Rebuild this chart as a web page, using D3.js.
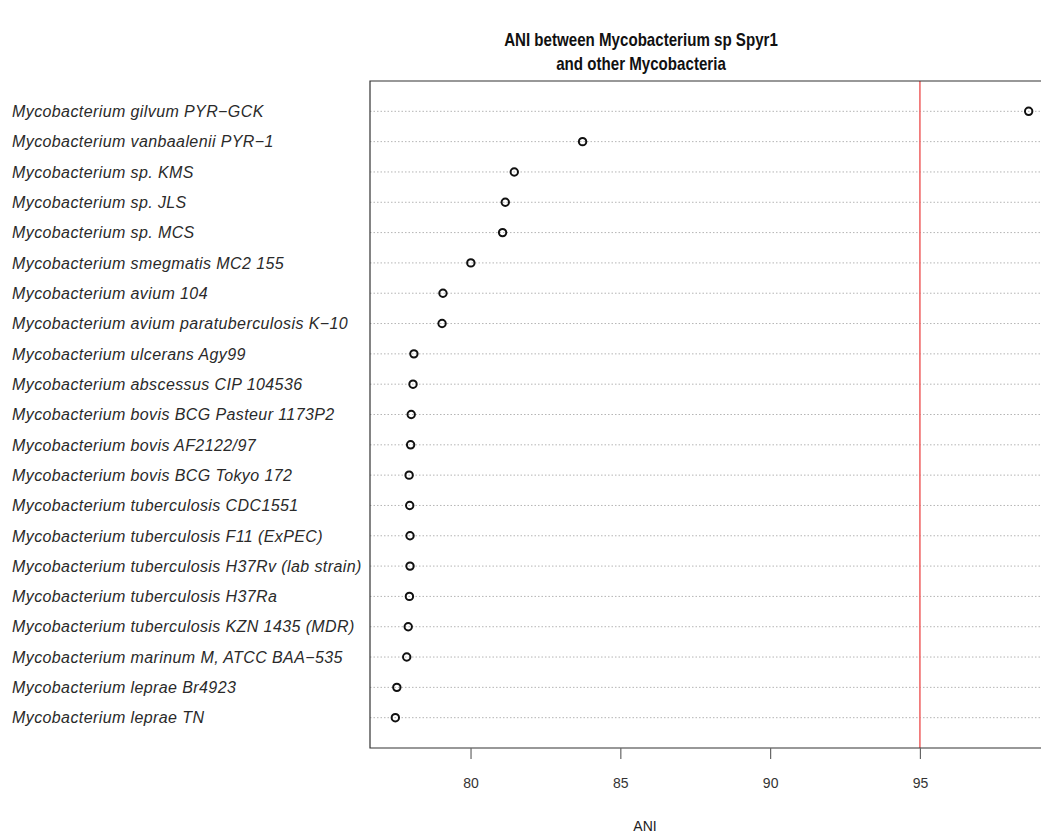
<!DOCTYPE html>
<html>
<head>
<meta charset="utf-8">
<script src="https://cdn.jsdelivr.net/npm/d3@7"></script>
<style>
  body { margin: 0; background: #fff; }
  text { font-family: "Liberation Sans", Arial, sans-serif; }
</style>
</head>
<body>
<svg id="chart"></svg>
<script>
// Species, top to bottom as drawn
var species = [
    "Mycobacterium gilvum PYR\u2212GCK",
    "Mycobacterium vanbaalenii PYR\u22121",
    "Mycobacterium sp. KMS",
    "Mycobacterium sp. JLS",
    "Mycobacterium sp. MCS",
    "Mycobacterium smegmatis MC2 155",
    "Mycobacterium avium 104",
    "Mycobacterium avium paratuberculosis K\u221210",
    "Mycobacterium ulcerans Agy99",
    "Mycobacterium abscessus CIP 104536",
    "Mycobacterium bovis BCG Pasteur 1173P2",
    "Mycobacterium bovis AF2122/97",
    "Mycobacterium bovis BCG Tokyo 172",
    "Mycobacterium tuberculosis CDC1551",
    "Mycobacterium tuberculosis F11 (ExPEC)",
    "Mycobacterium tuberculosis H37Rv (lab strain)",
    "Mycobacterium tuberculosis H37Ra",
    "Mycobacterium tuberculosis KZN 1435 (MDR)",
    "Mycobacterium marinum M, ATCC BAA\u2212535",
    "Mycobacterium leprae Br4923",
    "Mycobacterium leprae TN"
];

// ANI values (%) against Mycobacterium sp Spyr1
var ani = [98.63, 83.74, 81.46, 81.16, 81.07, 80.01, 79.08, 79.05, 78.11, 78.08,
           78.02, 78.00, 77.95, 77.97, 77.98, 77.98, 77.96, 77.92, 77.87, 77.54, 77.49];

var xTicks = [80, 85, 90, 95];
var cutoff = 95;

var titleLines = ["ANI between Mycobacterium sp Spyr1", "and other Mycobacteria"];
var xLabel = "ANI";

var W = 1041, H = 835;
var plot = { left: 370, top: 81, bottom: 748, right: 1054 };

var svg = d3.select("#chart")
    .attr("width", W)
    .attr("height", H);

// R-style xlim: data range padded by 4% on each side
var lo = d3.min(ani), hi = d3.max(ani), pad = (hi - lo) * 0.04;
var x = d3.scaleLinear()
    .domain([lo - pad, hi + pad])
    .range([plot.left, plot.right]);

// dotchart puts rows at 1..n inside 0..n+1
var n = species.length;
var y = d3.scaleLinear()
    .domain([0, n + 1])
    .range([plot.bottom, plot.top]);

function rowY(i) { return y(n - i); }

// dotted guide lines
svg.append("g")
    .selectAll("line")
    .data(species)
    .enter().append("line")
    .attr("x1", plot.left)
    .attr("x2", W)
    .attr("y1", function (d, i) { return rowY(i); })
    .attr("y2", function (d, i) { return rowY(i); })
    .style("stroke", "#b5b5b5")
    .style("stroke-width", 1)
    .style("stroke-dasharray", "1.5,2");

// red reference line at 95
svg.append("line")
    .attr("x1", x(cutoff)).attr("x2", x(cutoff))
    .attr("y1", plot.top).attr("y2", plot.bottom)
    .style("stroke", "#f06a6a")
    .style("stroke-width", 1.6);

// points
svg.append("g")
    .selectAll("circle")
    .data(ani)
    .enter().append("circle")
    .attr("cx", function (d) { return x(d); })
    .attr("cy", function (d, i) { return rowY(i); })
    .attr("r", 3.7)
    .style("fill", "none")
    .style("stroke", "#111")
    .style("stroke-width", 2);

// box (left, top, bottom)
svg.append("path")
    .attr("d", "M" + W + "," + plot.top + "H" + plot.left + "V" + plot.bottom + "H" + W)
    .style("fill", "none")
    .style("stroke", "#333")
    .style("stroke-width", 1.2);

// x axis
var xAxis = d3.axisBottom(x)
    .tickValues(xTicks)
    .tickSize(11)
    .tickPadding(19)
    .tickFormat(d3.format("d"));

var ax = svg.append("g")
    .attr("transform", "translate(0," + plot.bottom + ")")
    .call(xAxis);
ax.select(".domain").remove();
ax.selectAll(".tick line").style("stroke", "#666").style("stroke-width", 1.2);
ax.selectAll(".tick text")
    .style("font-size", "14px")
    .style("fill", "#333")
    .style("font-family", "'Liberation Sans', Arial, sans-serif");

// species labels
svg.append("g")
    .selectAll("text")
    .data(species)
    .enter().append("text")
    .attr("x", 12)
    .attr("y", function (d, i) { return rowY(i); })
    .attr("dy", ".36em")
    .style("font-size", "16px")
    .style("letter-spacing", "0.4px")
    .style("font-style", "italic")
    .style("fill", "#2a2a2a")
    .text(function (d) { return d; });

// title (narrow bold face)
svg.append("g")
    .attr("transform", "translate(641,0) scale(0.84,1)")
    .selectAll("text")
    .data(titleLines)
    .enter().append("text")
    .attr("x", 0)
    .attr("y", function (d, i) { return 46 + i * 24; })
    .style("text-anchor", "middle")
    .style("font-size", "18px")
    .style("font-weight", "bold")
    .style("fill", "#111")
    .text(function (d) { return d; });

// x label
svg.append("text")
    .attr("x", 645)
    .attr("y", 831)
    .style("text-anchor", "middle")
    .style("font-size", "14px")
    .style("fill", "#222")
    .text(xLabel);
</script>
</body>
</html>
